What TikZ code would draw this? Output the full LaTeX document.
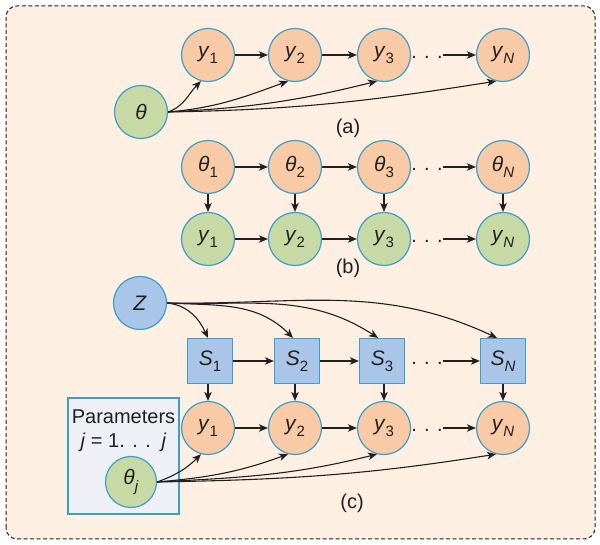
\documentclass[tikz,border=0pt]{standalone}
\usepackage{fontspec}
\setmainfont{Liberation Sans}
\usetikzlibrary{arrows.meta}
\definecolor{bgc}{HTML}{FDF0E2}
\definecolor{peach}{HTML}{F8CAA6}
\definecolor{leaf}{HTML}{C7DAA6}
\definecolor{sky}{HTML}{A9C5E8}
\definecolor{rim}{HTML}{3C9FCB}
\definecolor{ink}{HTML}{231F20}
\definecolor{parbg}{HTML}{EEF0F6}
\newcommand\vsub[2]{\textit{#1}\raisebox{-0.3em}{\fontsize{15}{15}\selectfont #2}}
\tikzset{
  base/.style={font=\fontsize{20}{23}\selectfont, text=ink},
  circ/.style={base, font=\fontsize{21}{24}\selectfont, circle, draw=rim, line width=1.2pt, minimum size=53pt, inner sep=0pt},
  orn/.style={circ, fill=peach},
  grn/.style={circ, fill=leaf},
  sq/.style={base, font=\fontsize{21}{24}\selectfont, rectangle, draw=rim, line width=1.2pt, fill=sky, minimum size=45pt, inner sep=0pt},
  arr/.style={draw=ink, line width=1.1pt, -{Stealth[length=9pt,width=7.5pt,inset=2.5pt]}},
  dotsty/.style={base, inner sep=0pt, text height=1.3ex, text depth=0pt},
  lbl/.style={base}
}
\begin{document}
\begin{tikzpicture}[x=1pt,y=1pt]
\useasboundingbox (0,0) rectangle (600,545);
\draw[ink, line width=1pt, dashed, dash pattern=on 4pt off 2.5pt, rounded corners=11pt, fill=bgc] (6,6) rectangle (595,539);

% (a)
\node[orn] (a1) at (208,490) {\vsub{y}{1}};
\node[orn] (a2) at (295,490) {\vsub{y}{2}};
\node[orn] (a3) at (384,490) {\vsub{y}{3}};
\node[dotsty] (ad) at (427,490) {. . .};
\node[orn] (aN) at (503,490) {\vsub{y}{\textit{N}}};
\node[grn] (ath) at (141,433) {\textit{θ}};
\node[lbl] (la) at (348,417) {(a)};
\draw[arr] (a1) -- (a2);
\draw[arr] (a2) -- (a3);
\draw[arr] (ad.east) -- (aN);
\draw[arr] (ath.east) to[out=20,in=-135] (a1.255);
\draw[arr] (ath.east) to[out=5,in=-160] (a2.255);
\draw[arr] (ath.east) to[out=3,in=-166] (a3.255);
\draw[arr] (ath.east) to[out=1,in=-171] (aN.255);

% (b)
\node[orn] (t1) at (208,378) {\vsub{θ}{1}};
\node[orn] (t2) at (295,378) {\vsub{θ}{2}};
\node[orn] (t3) at (384,378) {\vsub{θ}{3}};
\node[dotsty] (td) at (427,378) {. . .};
\node[orn] (tN) at (503,378) {\vsub{θ}{\textit{N}}};
\node[grn] (b1) at (208,306) {\vsub{y}{1}};
\node[grn] (b2) at (295,306) {\vsub{y}{2}};
\node[grn] (b3) at (384,306) {\vsub{y}{3}};
\node[dotsty] (bd) at (427,306) {. . .};
\node[grn] (bN) at (503,306) {\vsub{y}{\textit{N}}};
\node[lbl] (lb) at (348,277) {(b)};
\draw[arr] (t1) -- (t2);
\draw[arr] (t2) -- (t3);
\draw[arr] (td.east) -- (tN);
\draw[arr] (b1) -- (b2);
\draw[arr] (b2) -- (b3);
\draw[arr] (bd.east) -- (bN);
\draw[arr] (t1) -- (b1);
\draw[arr] (t2) -- (b2);
\draw[arr] (t3) -- (b3);
\draw[arr] (tN) -- (bN);

% (c)
\node[circ, fill=sky] (z) at (140,242) {\textit{Z}};
\node[sq] (s1) at (210,184) {\vsub{S}{1}};
\node[sq] (s2) at (297,184) {\vsub{S}{2}};
\node[sq] (s3) at (382,184) {\vsub{S}{3}};
\node[dotsty] (sd) at (427,184) {. . .};
\node[sq] (sN) at (503,184) {\vsub{S}{\textit{N}}};
\node[orn] (c1) at (208,117) {\vsub{y}{1}};
\node[orn] (c2) at (295,117) {\vsub{y}{2}};
\node[orn] (c3) at (384,117) {\vsub{y}{3}};
\node[dotsty] (cd) at (427,117) {. . .};
\node[orn] (cN) at (503,117) {\vsub{y}{\textit{N}}};
\node[draw=rim, line width=1.2pt, fill=parbg, minimum width=111pt, minimum height=116pt, inner sep=0pt] (pbox) at (123.5,89) {};
\node[base, align=center, inner sep=0pt] (ptxt) at (123.5,114) {Parameters\\[1pt]\textit{j} = 1. . .\, \textit{j}};
\node[grn, minimum size=51pt] (tj) at (131,63) {\vsub{θ}{\textit{j}}};
\node[lbl] (lc) at (352,42) {(c)};
\draw[arr] (s1) -- (s2);
\draw[arr] (s2) -- (s3);
\draw[arr] (sd.east) -- (sN);
\draw[arr] (c1) -- (c2);
\draw[arr] (c2) -- (c3);
\draw[arr] (cd.east) -- (cN);
\draw[arr] (s1.south -| c1) -- (c1);
\draw[arr] (s2.south -| c2) -- (c2);
\draw[arr] (s3.south -| c3) -- (c3);
\draw[arr] (sN) -- (cN);
\draw[arr] (z.east) to[out=-6,in=115] ([xshift=-2pt]s1.north);
\draw[arr] (z.east) to[out=-3,in=135] ([xshift=-4pt]s2.north);
\draw[arr] (z.east) to[out=-2,in=147] ([xshift=-4pt]s3.north);
\draw[arr] (z.east) to[out=-1,in=155] ([xshift=-6pt]sN.north);
\draw[arr] (tj.east) to[out=20,in=-135] (c1.255);
\draw[arr] (tj.east) to[out=5,in=-160] (c2.255);
\draw[arr] (tj.east) to[out=3,in=-166] (c3.255);
\draw[arr] (tj.east) to[out=1,in=-171] (cN.255);
\end{tikzpicture}
\end{document}
